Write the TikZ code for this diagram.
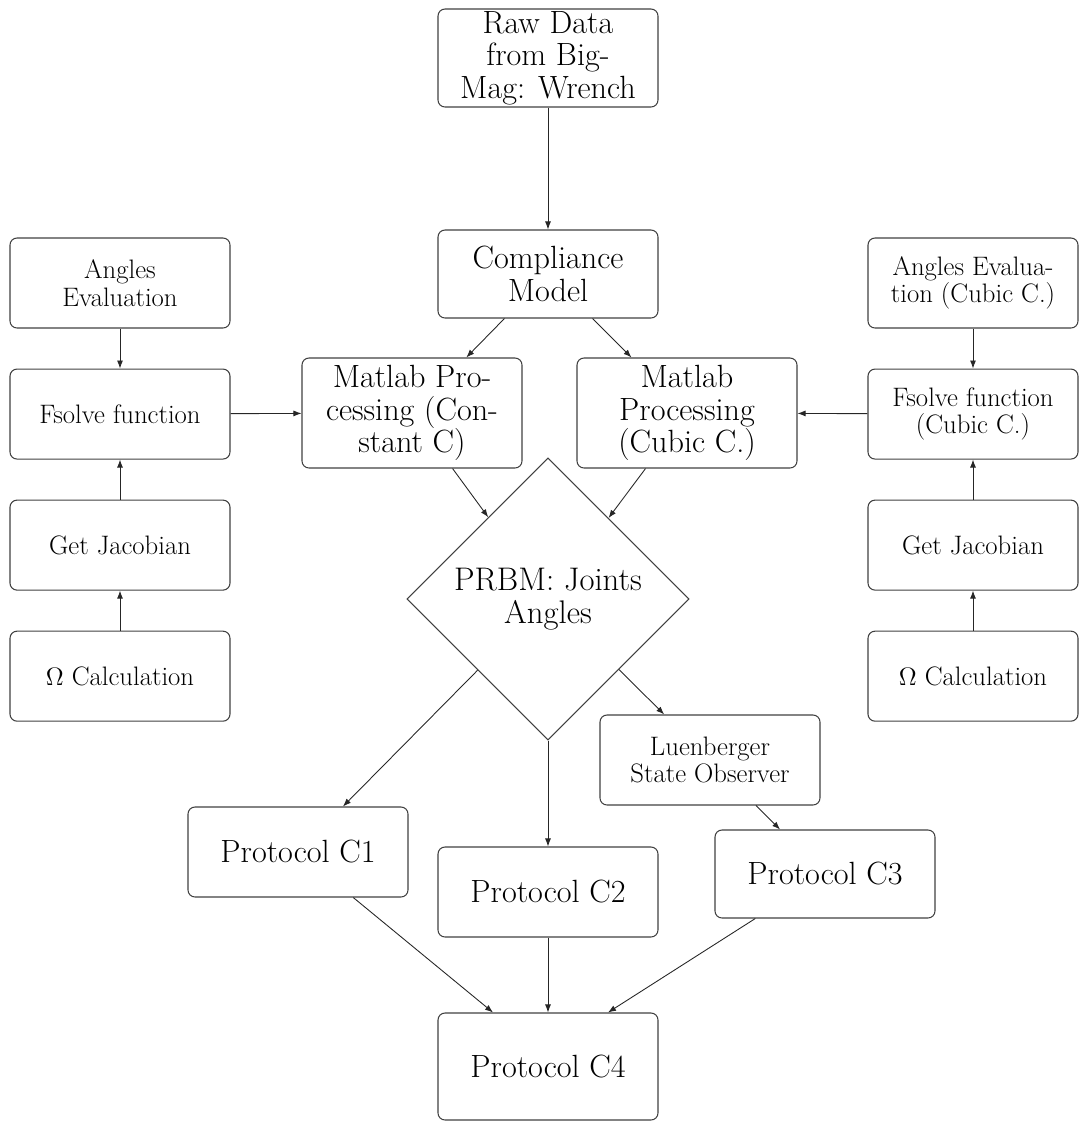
\documentclass[tikz,border=0pt]{standalone}
\usepackage{amsmath,amssymb}
\usepackage{xcolor}
\usepackage{tikz}
\usetikzlibrary{shapes.geometric, arrows.meta, positioning, calc}

\begin{document}
\begin{tikzpicture}[
  node distance=0.8cm and 0.8cm,
  bigbox/.style={rectangle, draw=black!75, line width=0.6pt, rounded corners=4pt, inner sep=1pt, minimum width=4.4cm, minimum height=1.8cm, align=center, font=\fontsize{18.3}{18.6}\selectfont},
  sidebox/.style={rectangle, draw=black!75, line width=0.6pt, rounded corners=4pt, inner sep=2pt, minimum width=4.4cm, minimum height=1.8cm, align=center, font=\fontsize{15.2}{15.6}\selectfont},
  decision/.style={diamond, draw=black!75, line width=0.6pt, aspect=1, inner sep=1pt, minimum width=5.64cm, minimum height=5.64cm, align=center, font=\fontsize{18.6}{18.6}\selectfont},
  arrow/.style={-{Latex[length=1.6mm, width=1.2mm]}, line width=0.5pt, draw=black!85}
]
\useasboundingbox (0,0) rectangle (21.66,-22.56);

% Nodes
\node[bigbox, minimum height=1.96cm] (raw) at (10.96,-1.16) {Raw Data\\from Big-\\Mag: Wrench};
\node[bigbox, minimum height=1.76cm] (compliance) at (10.96,-5.48) {Compliance\\Model};

% left column
\node[sidebox] (anglesL) at (2.4,-5.66) {Angles\\Evaluation};
\node[sidebox, below=of anglesL] (fsolveL) {Fsolve function};
\node[sidebox, below=of fsolveL] (jacobL) {Get Jacobian};
\node[sidebox, below=of jacobL] (omegaL) {$\Omega$ Calculation};

% right column
\node[sidebox, minimum width=4.2cm] (anglesR) at (19.46,-5.66) {Angles Evalua-\\tion (Cubic C.)};
\node[sidebox, minimum width=4.2cm, below=of anglesR] (fsolveR) {Fsolve function\\(Cubic C.)};
\node[sidebox, minimum width=4.2cm, below=of fsolveR] (jacobR) {Get Jacobian};
\node[sidebox, minimum width=4.2cm, below=of jacobR] (omegaR) {$\Omega$ Calculation};

\node[bigbox, minimum height=2.2cm] (matconst) at (8.24,-8.26) {Matlab Pro-\\cessing (Con-\\stant C)};
\node[bigbox, minimum height=2.2cm] (matcubic) at (13.74,-8.26) {Matlab\\Processing\\(Cubic C.)};

\node[decision] (prbm) at (10.96,-11.98) {PRBM: Joints\\Angles};

\node[sidebox] (observer) at (14.2,-15.2) {Luenberger\\State Observer};
\node[bigbox] (protA) at (5.96,-17.04) {Protocol C1};
\node[bigbox] (protB) at (10.96,-17.84) {Protocol C2};
\node[bigbox, minimum height=1.76cm] (protC) at (16.5,-17.48) {Protocol C3};
\node[bigbox, minimum height=2.14cm] (protD) at (10.96,-21.33) {Protocol C4};

% Arrows
\draw[arrow] (raw) -- (compliance);
\draw[arrow] (compliance) -- (matconst);
\draw[arrow] (compliance) -- (matcubic);

\draw[arrow] (anglesL) -- (fsolveL);
\draw[arrow] (jacobL) -- (fsolveL);
\draw[arrow] (omegaL) -- (jacobL);
\draw[arrow] (fsolveL) -- (matconst);

\draw[arrow] (anglesR) -- (fsolveR);
\draw[arrow] (jacobR) -- (fsolveR);
\draw[arrow] (omegaR) -- (jacobR);
\draw[arrow] (fsolveR) -- (matcubic);

\draw[arrow] (matconst) -- (prbm);
\draw[arrow] (matcubic) -- (prbm);

\draw[arrow] (prbm) -- (protA);
\draw[arrow] (prbm) -- (protB);
\draw[arrow] (prbm) -- (observer);
\draw[arrow] (observer) -- (protC);

\draw[arrow] (protA) -- ([xshift=-1.1cm]protD.north);
\draw[arrow] (protB) -- (protD);
\draw[arrow] (protC) -- ([xshift=1.2cm]protD.north);

\end{tikzpicture}
\end{document}
